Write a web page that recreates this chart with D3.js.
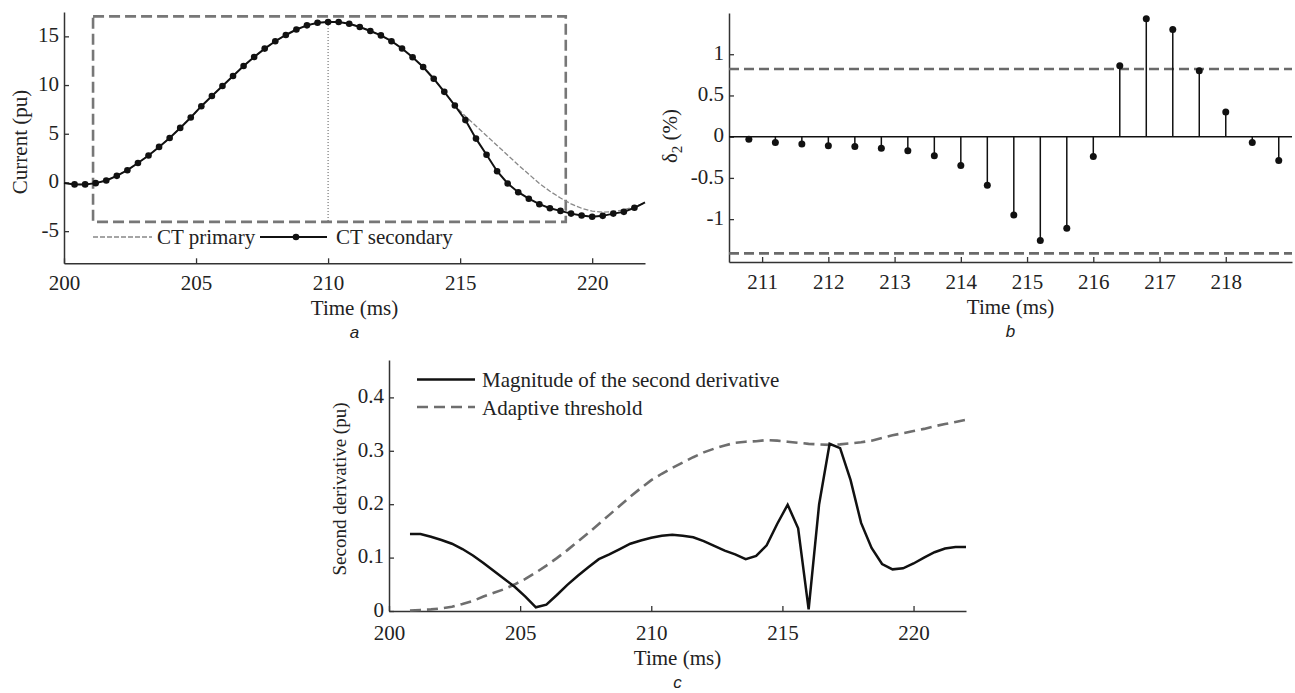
<!DOCTYPE html>
<html>
<head>
<meta charset="utf-8">
<script src="https://cdn.jsdelivr.net/npm/d3@7"></script>
<style>
  body { margin: 0; background: #fff; }
  svg text { font-family: 'Liberation Serif', 'Times New Roman', serif; fill: #222; }
  svg text.panel-tag { font-family: 'Liberation Sans', Arial, sans-serif; font-style: italic; }
</style>
</head>
<body>
<svg id="fig" width="1295" height="693"></svg>
<script>
// ---- panel a : CT currents ----
const timeA = [200.0, 200.4, 200.8, 201.2, 201.6, 202.0, 202.4, 202.8, 203.2, 203.6,
  204.0, 204.4, 204.8, 205.2, 205.6, 206.0, 206.4, 206.8, 207.2, 207.6,
  208.0, 208.4, 208.8, 209.2, 209.6, 210.0, 210.4, 210.8, 211.2, 211.6,
  212.0, 212.4, 212.8, 213.2, 213.6, 214.0, 214.4, 214.8, 215.2, 215.6,
  216.0, 216.4, 216.8, 217.2, 217.6, 218.0, 218.4, 218.8, 219.2, 219.6,
  220.0, 220.4, 220.8, 221.2, 221.6, 222.0]
const ctSecondary = [-0.05, -0.2, -0.2, -0.07, 0.2, 0.68, 1.26, 2.0, 2.77, 3.65,
  4.57, 5.6, 6.67, 7.83, 8.88, 9.9, 10.93, 11.96, 12.88, 13.74,
  14.5, 15.14, 15.7, 16.13, 16.4, 16.47, 16.47, 16.3, 15.96, 15.55,
  15.1, 14.5, 13.75, 12.85, 11.85, 10.65, 9.3, 7.9, 6.4, 4.5,
  2.85, 1.15, -0.1, -1.0, -1.67, -2.23, -2.65, -2.92, -3.2, -3.4,
  -3.52, -3.43, -3.2, -3.02, -2.6, -2.05]
const ctPrimary = [-0.05, -0.2, -0.2, -0.07, 0.2, 0.68, 1.26, 2.0, 2.77, 3.65,
  4.57, 5.6, 6.67, 7.83, 8.88, 9.9, 10.93, 11.96, 12.88, 13.74,
  14.5, 15.14, 15.7, 16.13, 16.4, 16.47, 16.47, 16.3, 15.96, 15.55,
  15.1, 14.5, 13.75, 12.85, 11.85, 10.65, 9.3, 7.9, 6.8, 5.8,
  4.8, 3.8, 2.8, 1.8, 0.85, -0.1, -0.9, -1.6, -2.2, -2.65,
  -2.95, -3.05, -3.0, -2.8, -2.5, -2.1]
const xTicksA = [200, 205, 210, 215, 220]
const yTicksA = [-5, 0, 5, 10, 15]
const boxA = { t0: 201.1, t1: 219.0, top: 17.05, bottom: -4.05 }
const peakTimeA = 210.0

// ---- panel b : delta_2 ----
const timeB = [210.8, 211.2, 211.6, 212.0, 212.4, 212.8, 213.2, 213.6, 214.0, 214.4,
  214.8, 215.2, 215.6, 216.0, 216.4, 216.8, 217.2, 217.6, 218.0, 218.4, 218.8]
const deltaB = [-0.03, -0.07, -0.09, -0.11, -0.12, -0.14, -0.17, -0.23, -0.35, -0.59,
  -0.95, -1.26, -1.11, -0.24, 0.86, 1.43, 1.30, 0.80, 0.30, -0.07, -0.29]
const limitsB = [0.82, -1.415]
const xTicksB = [211, 212, 213, 214, 215, 216, 217, 218]
const yTicksB = [-1, -0.5, 0, 0.5, 1]

// ---- panel c : second derivative ----
const timeC = [200.8, 201.2, 201.6, 202.0, 202.4, 202.8, 203.2, 203.6, 204.0, 204.4,
  204.8, 205.2, 205.6, 206.0, 206.4, 206.8, 207.2, 207.6, 208.0, 208.4,
  208.8, 209.2, 209.6, 210.0, 210.4, 210.8, 211.2, 211.6, 212.0, 212.4,
  212.8, 213.2, 213.6, 214.0, 214.4, 214.8, 215.2, 215.6, 216.0, 216.4,
  216.8, 217.2, 217.6, 218.0, 218.4, 218.8, 219.2, 219.6, 220.0, 220.4,
  220.8, 221.2, 221.6, 222.0]
const magnitudeC = [0.144, 0.144, 0.139, 0.133, 0.126, 0.116, 0.104, 0.090, 0.075, 0.060,
  0.045, 0.027, 0.007, 0.012, 0.030, 0.049, 0.066, 0.082, 0.097, 0.106,
  0.116, 0.126, 0.132, 0.137, 0.141, 0.143, 0.141, 0.138, 0.131, 0.122,
  0.113, 0.106, 0.097, 0.103, 0.123, 0.163, 0.199, 0.155, 0.003, 0.200,
  0.313, 0.305, 0.245, 0.165, 0.118, 0.088, 0.078, 0.080, 0.089, 0.100,
  0.110, 0.117, 0.120, 0.120]
const thresholdC = [0.001, 0.002, 0.003, 0.005, 0.008, 0.013, 0.019, 0.027, 0.034, 0.041,
  0.050, 0.060, 0.072, 0.085, 0.099, 0.114, 0.130, 0.146, 0.163, 0.180,
  0.197, 0.214, 0.230, 0.245, 0.257, 0.268, 0.278, 0.288, 0.297, 0.304,
  0.310, 0.315, 0.317, 0.318, 0.320, 0.319, 0.317, 0.315, 0.313, 0.312,
  0.311, 0.312, 0.314, 0.316, 0.319, 0.324, 0.329, 0.333, 0.337, 0.341,
  0.346, 0.350, 0.354, 0.358]
const xTicksC = [200, 205, 210, 215, 220]
const yTicksC = [0, 0.1, 0.2, 0.3, 0.4]

const AXIS = '#333'
const GREY = '#6e6e6e'
const FS = 21

const svg = d3.select('#fig')

function drawAxes (x, y, xTicks, yTicks, pad) {
  const g = svg.append('g')
  g.append('g')
    .attr('transform', `translate(0,${y.range()[0]})`)
    .call(d3.axisBottom(x).tickValues(xTicks).tickSizeInner(-5).tickSizeOuter(0)
      .tickPadding(pad).tickFormat(d => String(d)))
  const ya = g.append('g')
    .attr('transform', `translate(${x.range()[0]},0)`)
    .call(d3.axisLeft(y).tickValues(yTicks).tickSizeInner(-5).tickSizeOuter(0)
      .tickPadding(5).tickFormat(d => String(d)))
  ya.selectAll('text').attr('dy', '0.25em')
  g.selectAll('.domain').attr('stroke', AXIS).attr('stroke-width', 1.5)
  g.selectAll('.tick line').attr('stroke', AXIS).attr('stroke-width', 1.3)
  g.selectAll('g').attr('font-family', null).attr('font-size', null)
  g.selectAll('text').attr('font-size', FS).attr('fill', '#222')
  return g
}

// axis title + panel letter under the x axis
function xTitle (x, y, tag, shift) {
  const cx = (x.range()[0] + x.range()[1]) / 2
  const base = y.range()[0] + shift
  svg.append('text').attr('x', cx).attr('y', base + 50)
    .attr('text-anchor', 'middle').attr('font-size', FS).text('Time (ms)')
  svg.append('text').attr('class', 'panel-tag').attr('x', cx).attr('y', base + 73)
    .attr('text-anchor', 'middle').attr('font-size', 17).text(tag)
}

// ================= panel a =================
const xA = d3.scaleLinear().domain([200, 222]).range([64, 645])
const yA = d3.scaleLinear().domain([-8.3, 17.5]).range([263.3, 12])
drawAxes(xA, yA, xTicksA, yTicksA, 12)

svg.append('rect')
  .attr('x', xA(boxA.t0)).attr('y', yA(boxA.top))
  .attr('width', xA(boxA.t1) - xA(boxA.t0))
  .attr('height', yA(boxA.bottom) - yA(boxA.top))
  .attr('fill', 'none').attr('stroke', '#777').attr('stroke-width', 2.6)
  .attr('stroke-dasharray', '11,5')

svg.append('line')
  .attr('x1', xA(peakTimeA)).attr('x2', xA(peakTimeA))
  .attr('y1', yA(16.47)).attr('y2', yA(boxA.bottom))
  .attr('stroke', '#555').attr('stroke-width', 1).attr('stroke-dasharray', '1,2')

const lineA = d3.line().x(d => xA(d[0])).y(d => yA(d[1]))
svg.append('path')
  .datum(timeA.map((t, i) => [t, ctPrimary[i]]))
  .attr('d', lineA).attr('fill', 'none').attr('stroke', '#888')
  .attr('stroke-width', 1.3).attr('stroke-dasharray', '5,2')
const secPts = timeA.map((t, i) => [t, ctSecondary[i]])
svg.append('path')
  .datum(secPts)
  .attr('d', lineA).attr('fill', 'none').attr('stroke', '#111').attr('stroke-width', 2)
svg.selectAll('.dotA')
  .data(secPts.filter(d => d[0] > 200 && d[0] < 222))
  .join('circle')
  .attr('class', 'dotA')
  .attr('cx', d => xA(d[0])).attr('cy', d => yA(d[1])).attr('r', 3.3).attr('fill', '#111')

// legend a
const legA = svg.append('g')
legA.append('line').attr('x1', 93).attr('x2', 152).attr('y1', 237).attr('y2', 237)
  .attr('stroke', '#888').attr('stroke-width', 1.3).attr('stroke-dasharray', '5,2')
legA.append('text').attr('x', 157).attr('y', 244).attr('font-size', FS).text('CT primary')
legA.append('line').attr('x1', 260).attr('x2', 327).attr('y1', 237).attr('y2', 237)
  .attr('stroke', '#111').attr('stroke-width', 2)
legA.append('circle').attr('cx', 296).attr('cy', 237).attr('r', 3.3).attr('fill', '#111')
legA.append('text').attr('x', 336).attr('y', 244).attr('font-size', FS).text('CT secondary')

svg.append('text').attr('transform', `translate(27,142) rotate(-90)`)
  .attr('text-anchor', 'middle').attr('font-size', FS).text('Current (pu)')
xTitle(xA, yA, 'a', 2)

// ================= panel b =================
const xB = d3.scaleLinear().domain([210.5, 219]).range([729, 1292])
const yB = d3.scaleLinear().domain([-1.52, 1.5]).range([262, 13])
drawAxes(xB, yB, xTicksB, yTicksB, 12)

svg.selectAll('.limitB')
  .data(limitsB)
  .join('line')
  .attr('class', 'limitB')
  .attr('x1', xB(210.5)).attr('x2', xB(219))
  .attr('y1', d => yB(d)).attr('y2', d => yB(d))
  .attr('stroke', '#6a6a6a').attr('stroke-width', 2.6).attr('stroke-dasharray', '10,5')

svg.append('line')
  .attr('x1', xB(210.5)).attr('x2', xB(219))
  .attr('y1', yB(0)).attr('y2', yB(0))
  .attr('stroke', '#111').attr('stroke-width', 1.5)

const stemPts = timeB.map((t, i) => [t, deltaB[i]])
svg.selectAll('.stemB')
  .data(stemPts)
  .join('line')
  .attr('class', 'stemB')
  .attr('x1', d => xB(d[0])).attr('x2', d => xB(d[0]))
  .attr('y1', yB(0)).attr('y2', d => yB(d[1]))
  .attr('stroke', '#111').attr('stroke-width', 1.5)
svg.selectAll('.dotB')
  .data(stemPts)
  .join('circle')
  .attr('class', 'dotB')
  .attr('cx', d => xB(d[0])).attr('cy', d => yB(d[1])).attr('r', 3.5).attr('fill', '#111')

const labB = svg.append('text').attr('transform', `translate(677,136) rotate(-90)`)
  .attr('text-anchor', 'middle').attr('font-size', FS)
labB.append('tspan').text('δ')
labB.append('tspan').attr('font-size', 15).attr('dy', 5).text('2')
labB.append('tspan').attr('dy', -5).text(' (%)')
xTitle(xB, yB, 'b', 2)

// ================= panel c =================
const xC = d3.scaleLinear().domain([200, 222]).range([389, 966])
const yC = d3.scaleLinear().domain([0, 0.47]).range([611, 360])
drawAxes(xC, yC, xTicksC, yTicksC, 14)

const lineC = d3.line().x(d => xC(d[0])).y(d => yC(d[1]))
svg.append('path')
  .datum(timeC.map((t, i) => [t, thresholdC[i]]))
  .attr('d', lineC).attr('fill', 'none').attr('stroke', GREY)
  .attr('stroke-width', 2.6).attr('stroke-dasharray', '11,6')
svg.append('path')
  .datum(timeC.map((t, i) => [t, magnitudeC[i]]))
  .attr('d', lineC).attr('fill', 'none').attr('stroke', '#111').attr('stroke-width', 2.5)

const legC = svg.append('g')
legC.append('line').attr('x1', 417).attr('x2', 475).attr('y1', 379.5).attr('y2', 379.5)
  .attr('stroke', '#111').attr('stroke-width', 2.5)
legC.append('text').attr('x', 482).attr('y', 387).attr('font-size', FS)
  .text('Magnitude of the second derivative')
legC.append('line').attr('x1', 417).attr('x2', 475).attr('y1', 407).attr('y2', 407)
  .attr('stroke', GREY).attr('stroke-width', 2.6).attr('stroke-dasharray', '11,6')
legC.append('text').attr('x', 482).attr('y', 415).attr('font-size', FS)
  .text('Adaptive threshold')

svg.append('text').attr('transform', `translate(346,489) rotate(-90)`)
  .attr('text-anchor', 'middle').attr('font-size', 19).text('Second derivative (pu)')
xTitle(xC, yC, 'c', 4)
</script>
</body>
</html>
